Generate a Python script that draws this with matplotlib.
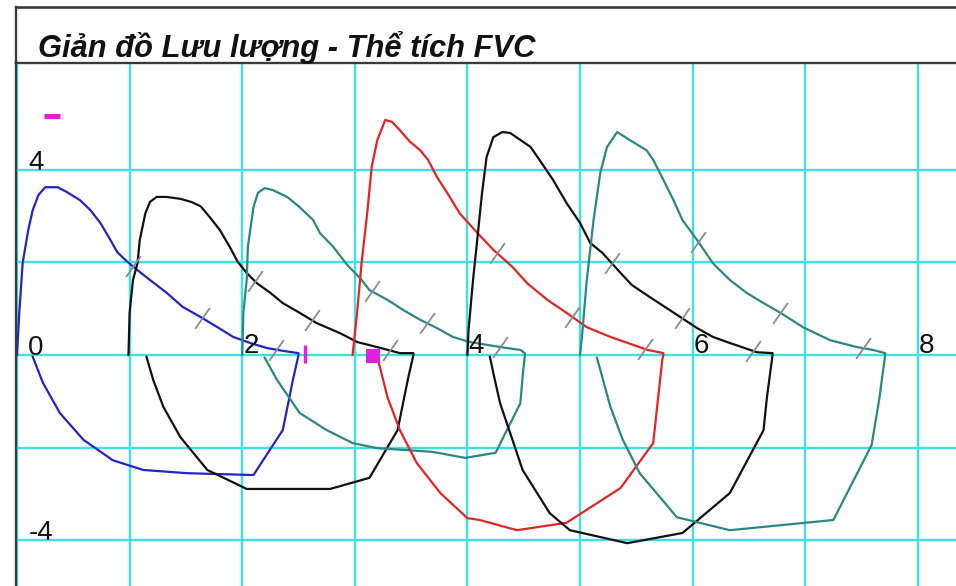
import numpy as np
import matplotlib
matplotlib.use("Agg")
import matplotlib.pyplot as plt
from matplotlib import font_manager
from matplotlib.lines import Line2D

# ---------------- data ----------------
title_text = "Giản đồ Lưu lượng - Thể tích FVC"
x_tick_values = [2, 4, 6, 8]
x_tick_labels = ["2", "4", "6", "8"]
y_tick_values = [4, 0, -4]
y_tick_labels = ["4", "0", "-4"]
x_grid = [0, 1, 2, 3, 4, 5, 6, 7, 8]
y_grid = [-4, -2, 0, 2, 4]

loop_colors = ["#2424c4", "#111111", "#2a8880", "#e42424", "#111111", "#2a8880"]

# loop 1 (blue)
blue_exp_vol = [0, 0.02, 0.05, 0.10, 0.14, 0.19, 0.25, 0.36, 0.44, 0.56, 0.65, 0.74, 0.83, 0.89, 0.98,
                1.07, 1.18, 1.33, 1.47, 1.63, 1.78, 1.92, 2.07, 2.22, 2.36, 2.50, 2.50]
blue_exp_flow = [0, 0.91, 1.98, 2.70, 3.13, 3.45, 3.62, 3.62, 3.52, 3.34, 3.13, 2.85, 2.48, 2.22, 2.01,
                 1.83, 1.62, 1.34, 1.04, 0.82, 0.60, 0.39, 0.26, 0.15, 0.09, 0.04, 0]
blue_insp_vol = [2.50, 2.45, 2.36, 2.10, 1.51, 1.12, 0.85, 0.59, 0.38, 0.23, 0.14]
blue_insp_flow = [0, -0.54, -1.62, -2.59, -2.55, -2.48, -2.27, -1.83, -1.25, -0.60, -0.04]
blue_marks = [1.03, 1.64, 2.30]

# loop 2 (black)
black1_exp_vol = [0.99, 1.00, 1.03, 1.07, 1.09, 1.14, 1.18, 1.24, 1.33, 1.45, 1.55, 1.63, 1.71, 1.80,
                  1.89, 1.96, 2.04, 2.13, 2.25, 2.36, 2.51, 2.66, 2.87, 3.02, 3.20, 3.40, 3.52, 3.52]
black1_exp_flow = [0, 0.91, 1.62, 1.98, 2.48, 3.06, 3.30, 3.41, 3.41, 3.37, 3.30, 3.21, 2.98, 2.70,
                   2.33, 2.01, 1.77, 1.55, 1.34, 1.12, 0.91, 0.69, 0.47, 0.28, 0.17, 0.04, 0.04, 0]
black1_insp_vol = [3.52, 3.47, 3.38, 3.13, 2.78, 2.04, 1.69, 1.45, 1.30, 1.21, 1.15]
black1_insp_flow = [0, -0.54, -1.62, -2.65, -2.89, -2.89, -2.48, -1.77, -1.12, -0.54, -0.04]
black1_marks = [2.11, 2.62, 3.31]

# loop 3 (teal)
teal1_exp_vol = [2.00, 2.01, 2.04, 2.05, 2.10, 2.14, 2.20, 2.27, 2.40, 2.51, 2.63, 2.69, 2.81, 2.93,
                 3.05, 3.13, 3.29, 3.43, 3.58, 3.73, 3.87, 4.02, 4.17, 4.35, 4.47, 4.51, 4.51]
teal1_exp_flow = [0, 0.91, 1.62, 2.33, 3.19, 3.50, 3.60, 3.56, 3.41, 3.19, 2.91, 2.63, 2.33, 1.95,
                  1.65, 1.40, 1.19, 0.97, 0.76, 0.58, 0.39, 0.28, 0.22, 0.15, 0.11, 0.04, 0]
teal1_insp_vol = [4.51, 4.49, 4.47, 4.25, 3.98, 3.69, 3.20, 2.98, 2.75, 2.51, 2.31, 2.20]
teal1_insp_flow = [0, -0.47, -1.04, -2.11, -2.22, -2.09, -2.01, -1.90, -1.62, -1.25, -0.54, -0.06]
teal1_marks = [3.15, 3.64, 4.29]

# loop 4 (red)
red_exp_vol = [2.98, 3.02, 3.06, 3.11, 3.15, 3.20, 3.27, 3.33, 3.40, 3.49, 3.58, 3.65, 3.73, 3.82,
               3.93, 4.09, 4.23, 4.40, 4.53, 4.71, 4.88, 5.06, 5.27, 5.47, 5.60, 5.74, 5.74]
red_exp_flow = [0, 0.91, 1.98, 3.06, 4.06, 4.64, 5.07, 5.03, 4.85, 4.60, 4.42, 4.21, 3.84, 3.50,
                3.06, 2.63, 2.27, 1.90, 1.55, 1.19, 0.91, 0.60, 0.39, 0.22, 0.11, 0.04, 0]
red_insp_vol = [5.74, 5.73, 5.65, 5.36, 4.88, 4.44, 4.11, 4.00, 3.76, 3.55, 3.40, 3.29, 3.20]
red_insp_flow = [0, -0.11, -1.90, -2.87, -3.62, -3.78, -3.56, -3.52, -2.98, -2.33, -1.62, -0.91, -0.04]
red_marks = [4.26, 4.93, 5.58]

# loop 5 (black)
black2_exp_vol = [4.00, 4.01, 4.05, 4.09, 4.13, 4.17, 4.23, 4.31, 4.38, 4.47, 4.56, 4.64, 4.76, 4.88,
                  5.00, 5.09, 5.20, 5.36, 5.46, 5.62, 5.89, 6.04, 6.18, 6.33, 6.57, 6.71, 6.71]
black2_exp_flow = [0, 0.54, 1.62, 2.55, 3.50, 4.27, 4.70, 4.81, 4.79, 4.64, 4.49, 4.21, 3.78, 3.28,
                   2.85, 2.42, 2.20, 1.77, 1.51, 1.25, 0.82, 0.58, 0.39, 0.26, 0.06, 0.04, 0]
black2_insp_vol = [6.71, 6.66, 6.63, 6.33, 5.91, 5.42, 4.91, 4.73, 4.49, 4.40, 4.29, 4.23, 4.20]
black2_insp_flow = [0, -0.91, -1.62, -2.98, -3.84, -4.06, -3.78, -3.41, -2.48, -1.83, -1.04, -0.39, -0.04]
black2_marks = [5.28, 5.91, 6.54]

# loop 6 (teal)
teal2_exp_vol = [5.00, 5.02, 5.06, 5.12, 5.18, 5.24, 5.33, 5.44, 5.59, 5.65, 5.74, 5.83, 5.91, 6.04,
                 6.18, 6.33, 6.48, 6.63, 6.78, 6.98, 7.22, 7.46, 7.60, 7.71, 7.71]
teal2_exp_flow = [0, 0.47, 1.62, 2.91, 3.93, 4.49, 4.81, 4.64, 4.42, 4.21, 3.78, 3.34, 2.91, 2.48,
                  1.98, 1.62, 1.34, 1.12, 0.91, 0.60, 0.32, 0.17, 0.11, 0.04, 0]
teal2_insp_vol = [7.71, 7.66, 7.59, 7.25, 6.33, 5.86, 5.53, 5.38, 5.27, 5.18, 5.15]
teal2_insp_flow = [0, -0.91, -1.94, -3.56, -3.78, -3.50, -2.55, -1.83, -1.12, -0.32, -0.06]
teal2_marks = [6.05, 6.78, 7.51]

# magenta markers
pef_mark = (0.31, 5.16)
end_mark = (2.56, 0.02)
box_mark = (3.16, -0.02)

loops = [
    (blue_exp_vol, blue_exp_flow, blue_insp_vol, blue_insp_flow, blue_marks),
    (black1_exp_vol, black1_exp_flow, black1_insp_vol, black1_insp_flow, black1_marks),
    (teal1_exp_vol, teal1_exp_flow, teal1_insp_vol, teal1_insp_flow, teal1_marks),
    (red_exp_vol, red_exp_flow, red_insp_vol, red_insp_flow, red_marks),
    (black2_exp_vol, black2_exp_flow, black2_insp_vol, black2_insp_flow, black2_marks),
    (teal2_exp_vol, teal2_exp_flow, teal2_insp_vol, teal2_insp_flow, teal2_marks),
]

# ---------------- fonts ----------------
names = {f.name for f in font_manager.fontManager.ttflist}
narrow = "Liberation Sans Narrow" if "Liberation Sans Narrow" in names else "Liberation Sans"
plt.rcParams["font.family"] = [narrow, "DejaVu Sans"]
title_size = 24 if narrow == "Liberation Sans Narrow" else 22.2

# ---------------- figure ----------------
W, H = 956, 586
fig = plt.figure(figsize=(W / 100, H / 100), dpi=100)
fig.patch.set_facecolor("white")

ax = fig.add_axes([16 / W, 0, 1 - 16 / W, 523 / H])
ax.set_xlim(-0.009, 8.339)
ax.set_ylim(-4.984, 6.30)

grid_color = "#3ee2e6"
for xv in x_grid:
    ax.axvline(xv, color=grid_color, lw=1.7, zorder=1)
for yv in y_grid:
    ax.axhline(yv, color=grid_color, lw=1.7, zorder=1)

ax.set_xticks([])
ax.set_yticks([])
for side in ["right", "bottom"]:
    ax.spines[side].set_visible(False)
for side in ["left", "top"]:
    ax.spines[side].set_color("#3a3a3a")
    ax.spines[side].set_linewidth(1.7)
    ax.spines[side].set_zorder(5)

slash = [(-0.6, -0.85), (0.6, 0.85)]
for (ev, ef, iv, ifl, marks), col in zip(loops, loop_colors):
    vol = list(ev) + list(iv)
    flow = list(ef) + list(ifl)
    ax.plot(vol, flow, color=col, lw=1.6, zorder=3, solid_joinstyle="round")
    peak = int(np.argmax(ef))
    mv = np.array(marks)
    mf = np.interp(mv, np.array(ev[peak:]), np.array(ef[peak:]))
    ax.plot(mv, mf, ls="none", marker=slash, markersize=15, markeredgewidth=1.3,
            markeredgecolor="#8c8c8c", markerfacecolor="none", zorder=4)

mag = "#e020e0"
ax.plot([pef_mark[0]], [pef_mark[1]], ls="none", marker="_", markersize=11,
        markeredgewidth=3.6, color=mag, zorder=6)
ax.plot([end_mark[0]], [end_mark[1]], ls="none", marker="|", markersize=13,
        markeredgewidth=2.4, color=mag, zorder=6)
ax.plot([box_mark[0]], [box_mark[1]], ls="none", marker="s", markersize=10.5,
        color=mag, markeredgewidth=0, zorder=6)

# tick labels inside the plot
for v, lab in zip(y_tick_values, y_tick_labels):
    ax.text(0.10, v, lab, fontsize=20, va="baseline", ha="left", color="#111111", zorder=7)
for v, lab in zip(x_tick_values, x_tick_labels):
    ax.text(v + 0.01, 0.04, lab, fontsize=20, va="baseline", ha="left", color="#111111", zorder=7)

# title box
fig.add_artist(Line2D([16 / W, 1], [1 - 7 / H, 1 - 7 / H], transform=fig.transFigure,
                      color="#3a3a3a", lw=1.9))
fig.add_artist(Line2D([16 / W, 16 / W], [1 - 7 / H, 523 / H], transform=fig.transFigure,
                      color="#3a3a3a", lw=1.7))
fig.text(38 / W, 1 - 57 / H, title_text, fontsize=title_size, fontstyle="italic",
         fontweight="bold", ha="left", va="baseline", color="#111111")

fig.savefig("out.png", dpi=100)
